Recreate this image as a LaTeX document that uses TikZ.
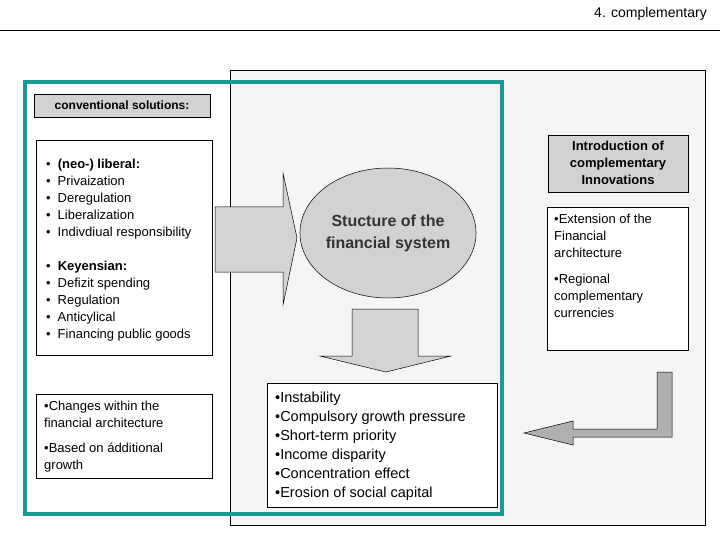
\documentclass[tikz,border=0pt]{standalone}
\usepackage{fontspec}
\setmainfont{Liberation Sans}
\usetikzlibrary{shapes.geometric}
\definecolor{panel}{HTML}{F4F5F4}
\definecolor{teal1}{HTML}{1A9A90}
\definecolor{hdr}{HTML}{D2D2D2}
\definecolor{arr}{HTML}{D4D4D4}
\definecolor{arr2}{HTML}{B0B0B0}
\tikzset{
  box/.style={draw=black,line width=0.6pt,fill=white},
  gbox/.style={draw=black,line width=0.6pt,fill=hdr},
  txt/.style={font=\fontsize{13}{17}\selectfont,align=left,inner sep=0pt},
  big/.style={draw=black,line width=0.5pt,fill=arr}
}
\begin{document}
\begin{tikzpicture}[x=1pt,y=-1pt]
\useasboundingbox (0,0) rectangle (720,540);
\node[anchor=east,font=\fontsize{14}{16}\selectfont,inner sep=0pt] (title) at (707,14) {4. complementary};
\draw[line width=0.6pt] (0,30) -- (720,30);
\draw[line width=0.7pt,fill=panel] (230,70) rectangle (705,525);
\draw[teal1,line width=4pt] (25,82) rectangle (502,514);
\draw[gbox] (34,94) rectangle (210,117);
\node[font=\bfseries\fontsize{12}{14}\selectfont,inner sep=0pt] (conv) at (122,105.5) {conventional solutions:};
\draw[box] (36,140) rectangle (212,355);
\node[txt,anchor=north west] (l1) at (46,156) {\begin{tabular}{@{}l@{\hspace{7pt}}l@{}}
•&\textbf{(neo-) liberal:}\\ •&Privaization\\ •&Deregulation\\ •&Liberalization\\ •&Indivdiual responsibility\\[17pt]
•&\textbf{Keyensian:}\\ •&Defizit spending\\ •&Regulation\\ •&Anticylical\\ •&Financing public goods
\end{tabular}};
\draw[box] (36,394) rectangle (212,478);
\node[txt,anchor=north west] (l2) at (44,401) {•Changes within the\\financial architecture\\[8pt]•Based on ádditional\\growth};
\draw[big] (215,207) -- (283,207) -- (283,173) -- (297,238) -- (283,305) -- (283,272) -- (215,272) -- cycle;
\node[ellipse,draw=black,line width=0.5pt,fill=hdr,inner sep=0pt,minimum width=158pt,minimum height=130pt,font=\bfseries\fontsize{16}{22}\selectfont,text=black!80,align=center] (fs) at (388,233) {Stucture of the\\financial system};
\draw[big] (352,309) -- (418,309) -- (418,356) -- (451,356) -- (386,372) -- (320,356) -- (352,356) -- cycle;
\draw[box] (267,383) rectangle (497,507);
\node[txt,anchor=north west,font=\fontsize{14.5}{19}\selectfont] (effects) at (275,392) {•Instability\\•Compulsory growth pressure\\•Short-term priority\\•Income disparity\\•Concentration effect\\•Erosion of social capital};
\draw[gbox] (548,135) rectangle (688,192);
\node[font=\bfseries\fontsize{13}{17}\selectfont,align=center,inner sep=0pt] (intro) at (618,163) {Introduction of\\complementary\\Innovations};
\draw[box] (547,207) rectangle (688,350);
\node[txt,anchor=north west] (r1) at (554,214) {•Extension of the\\Financial\\architecture\\[9pt]•Regional\\complementary\\currencies};
\draw[draw=black,line width=0.5pt,fill=arr2] (657,372) -- (672,372) -- (672,437) -- (573,437) -- (573,445) -- (524,433) -- (573,421) -- (573,429) -- (657,429) -- cycle;
\end{tikzpicture}
\end{document}
